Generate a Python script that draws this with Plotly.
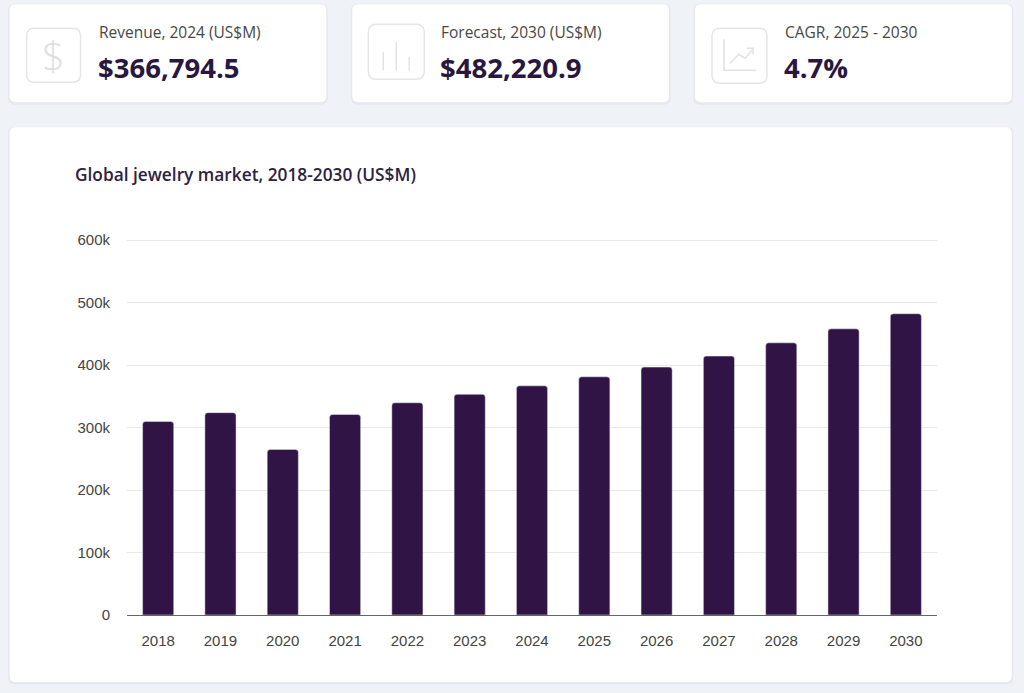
import plotly.graph_objects as go

# data
years = ["2018", "2019", "2020", "2021", "2022", "2023", "2024",
         "2025", "2026", "2027", "2028", "2029", "2030"]
revenue = [309800, 323900, 265000, 321000, 339700, 353200, 366794.5,
           381300, 396800, 414400, 435600, 458000, 482220.9]

card_labels = ["Revenue, 2024 (US$M)", "Forecast, 2030 (US$M)", "CAGR, 2025 - 2030"]
card_values = ["$366,794.5", "$482,220.9", "4.7%"]

TITLE = "Global jewelry market, 2018-2030 (US$M)"

BAR_COLOR = "#301446"
PAGE_BG = "#eff2f7"

Y_MAX = 605000

# plot area in pixels (used to place the card decorations)
FIG_W, FIG_H = 1024, 693
L, R, B = 126.5, 937.2, 615
T = B - 375 * Y_MAX / 600000


def X(px):
    return (px - L) / (R - L)


def Y(py):
    return (B - py) / (B - T)


def rrect(x0, y0, x1, y1, r):
    """Rounded rectangle path in paper coords, given pixel corners."""
    pts = [
        ("M", [(x0 + r, y0)]),
        ("L", [(x1 - r, y0)]),
        ("Q", [(x1, y0), (x1, y0 + r)]),
        ("L", [(x1, y1 - r)]),
        ("Q", [(x1, y1), (x1 - r, y1)]),
        ("L", [(x0 + r, y1)]),
        ("Q", [(x0, y1), (x0, y1 - r)]),
        ("L", [(x0, y0 + r)]),
        ("Q", [(x0, y0), (x0 + r, y0)]),
    ]
    out = ""
    for cmd, p in pts:
        out += cmd + " ".join("%.5f,%.5f" % (X(a), Y(b)) for a, b in p) + " "
    return out + "Z"


def polyline(points):
    return "M" + " L".join("%.5f,%.5f" % (X(a), Y(b)) for a, b in points)


fig = go.Figure()

fig.add_trace(go.Bar(
    x=years,
    y=revenue,
    marker=dict(color=BAR_COLOR, cornerradius=3),
    hoverinfo="x+y",
))

shapes = []

# card backgrounds (shadow first, then white card)
cards = [(9, 4, 326, 102), (352, 4, 669, 102), (695, 4, 1012, 102)]
chart_card = (9, 127, 1012, 682)
for c in cards + [chart_card]:
    x0, y0, x1, y1 = c
    shapes.append(dict(type="path", xref="paper", yref="paper", layer="below",
                       path=rrect(x0 - 1.5, y0 - 0.5, x1 + 1.5, y1 + 2.5, 7),
                       fillcolor="#e4e8ef", line=dict(width=0)))
    shapes.append(dict(type="path", xref="paper", yref="paper", layer="below",
                       path=rrect(x0, y0, x1, y1, 6),
                       fillcolor="white", line=dict(width=0)))

# icon boxes
icon_boxes = [(26, 28, 80, 82), (368, 24, 424, 79), (712, 28, 767, 83)]
for x0, y0, x1, y1 in icon_boxes:
    shapes.append(dict(type="path", xref="paper", yref="paper", layer="below",
                       path=rrect(x0, y0, x1, y1, 8),
                       fillcolor="white", line=dict(color="#e6e6e6", width=1.5)))

# bar-chart icon
for xx, ytop in [(383, 52), (396, 42), (409, 57)]:
    shapes.append(dict(type="path", xref="paper", yref="paper", layer="below",
                       path=polyline([(xx, ytop), (xx, 70)]),
                       line=dict(color="#e2e2e2", width=1.5)))

# trend icon
shapes.append(dict(type="path", xref="paper", yref="paper", layer="below",
                   path=polyline([(724, 39), (724, 70), (756, 70)]),
                   line=dict(color="#e2e2e2", width=1.5)))
shapes.append(dict(type="path", xref="paper", yref="paper", layer="below",
                   path=polyline([(730, 63), (739, 54), (745, 58), (753, 49)]),
                   line=dict(color="#e2e2e2", width=1.5)))
shapes.append(dict(type="path", xref="paper", yref="paper", layer="below",
                   path=polyline([(747, 48), (753, 48), (753, 54)]),
                   line=dict(color="#e2e2e2", width=1.5)))

annotations = []

text_x = [97, 440, 784]
for tx, lab, val in zip(text_x, card_labels, card_values):
    annotations.append(dict(
        x=X(tx - 1), y=Y(32), xref="paper", yref="paper",
        text=lab, showarrow=False, xanchor="left", yanchor="middle",
        font=dict(family="Open Sans", size=15.5, color="#474747"),
    ))
    annotations.append(dict(
        x=X(tx - 2), y=Y(67), xref="paper", yref="paper",
        text=val, showarrow=False, xanchor="left", yanchor="middle",
        font=dict(family="Open Sans", size=27.5, color="#2a1740", weight="bold"),
    ))

# dollar glyph in first icon
annotations.append(dict(
    x=X(53), y=Y(55), xref="paper", yref="paper",
    text="$", showarrow=False, xanchor="center", yanchor="middle",
    font=dict(family="Open Sans", size=40, color="#dedede", weight=300),
))

annotations.append(dict(
    x=X(72), y=Y(174), xref="paper", yref="paper",
    text=TITLE, showarrow=False, xanchor="left", yanchor="middle",
    font=dict(family="Open Sans", size=17.3, color="#2d2240", weight=600),
))

fig.update_layout(
    width=FIG_W,
    height=FIG_H,
    margin=dict(l=L, r=FIG_W - R, t=T, b=FIG_H - B, pad=0),
    paper_bgcolor=PAGE_BG,
    plot_bgcolor="rgba(0,0,0,0)",
    bargap=0.5,
    showlegend=False,
    shapes=shapes,
    annotations=annotations,
    font=dict(family="Liberation Sans, Arial, sans-serif", size=15, color="#444444"),
)

fig.update_xaxes(
    showgrid=False,
    showline=True,
    linecolor="#666666",
    linewidth=1,
    ticks="",
    ticklabelstandoff=12,
    tickfont=dict(size=15, color="#444444"),
)

fig.update_yaxes(
    range=[0, Y_MAX],
    tickvals=[0, 100000, 200000, 300000, 400000, 500000, 600000],
    ticktext=["0", "100k", "200k", "300k", "400k", "500k", "600k"],
    showgrid=True,
    gridcolor="#e8e8e8",
    gridwidth=1,
    zeroline=False,
    showline=False,
    ticks="",
    ticklabelstandoff=16,
    tickfont=dict(size=15, color="#444444"),
)

fig.write_html(
    "out.html",
    config={"displayModeBar": False},
    post_script="document.body.style.margin='0';"
                "document.body.style.background='%s';" % PAGE_BG,
)
